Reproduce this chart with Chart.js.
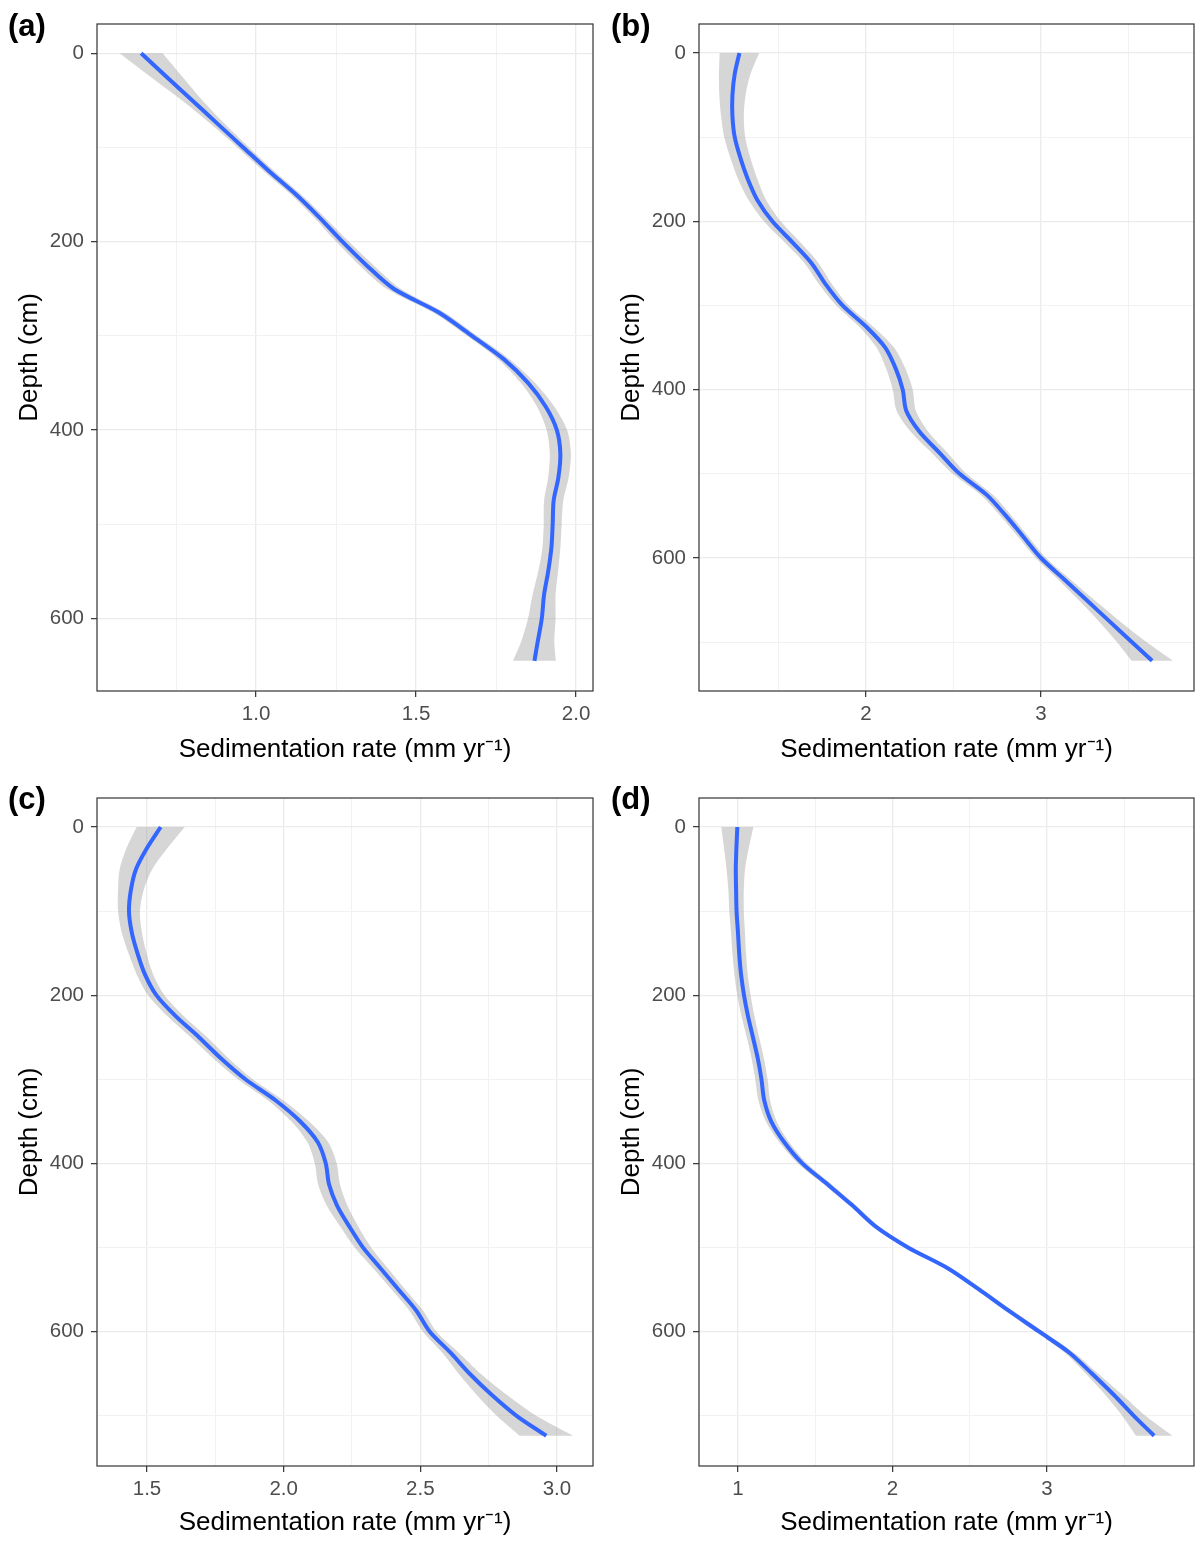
<!DOCTYPE html>
<html>
<head>
<meta charset="utf-8">
<script src="https://cdn.jsdelivr.net/npm/chart.js@4.4.0/dist/chart.umd.min.js"></script>
<style>
  body { margin: 0; background: #fff; }
  .panel { position: absolute; }
  .tag { position: absolute; font: bold 31px "Liberation Sans", Arial, sans-serif; line-height: 31px; color: #000; }
</style>
</head>
<body>
<div class="panel" style="left:0;top:0"><canvas id="chartA" width="597" height="772"></canvas></div>
<div class="panel" style="left:597px;top:0"><canvas id="chartB" width="598" height="772"></canvas></div>
<div class="panel" style="left:0;top:772px"><canvas id="chartC" width="597" height="772"></canvas></div>
<div class="panel" style="left:597px;top:772px"><canvas id="chartD" width="598" height="772"></canvas></div>
<div class="tag" style="left:8px;top:10px">(a)</div>
<div class="tag" style="left:611px;top:10px">(b)</div>
<div class="tag" style="left:8px;top:783px">(c)</div>
<div class="tag" style="left:611px;top:783px">(d)</div>
<script>
// depth (cm), fitted sedimentation rate and half width of the grey band
var depthA = [0, 25, 50, 75, 100, 125, 150, 175, 200, 225, 250, 275, 300, 325, 350, 375, 400, 425, 450, 475, 500, 525, 550, 575, 600, 625, 645];
var rateA = [0.641, 0.72, 0.80, 0.88, 0.96, 1.04, 1.125, 1.20, 1.27, 1.345, 1.43, 1.57, 1.675, 1.775, 1.85, 1.905, 1.94, 1.951, 1.945, 1.93, 1.927, 1.923, 1.913, 1.90, 1.893, 1.88, 1.87];
var bandA = [0.067, 0.05, 0.032, 0.022, 0.018, 0.017, 0.016, 0.017, 0.02, 0.022, 0.022, 0.018, 0.016, 0.018, 0.022, 0.027, 0.032, 0.033, 0.032, 0.03, 0.028, 0.028, 0.031, 0.036, 0.043, 0.052, 0.067];

var depthB = [0, 25, 50, 75, 100, 125, 150, 175, 200, 225, 250, 275, 300, 325, 350, 375, 400, 425, 450, 475, 500, 525, 550, 575, 600, 625, 650, 675, 700, 722];
var rateB = [1.277, 1.25, 1.237, 1.237, 1.25, 1.283, 1.325, 1.38, 1.465, 1.58, 1.69, 1.77, 1.866, 2.0, 2.11, 2.17, 2.21, 2.23, 2.306, 2.42, 2.535, 2.69, 2.80, 2.90, 3.0, 3.13, 3.26, 3.39, 3.52, 3.635];
var bandB = [0.113, 0.09, 0.075, 0.065, 0.06, 0.057, 0.055, 0.05, 0.048, 0.045, 0.04, 0.037, 0.035, 0.04, 0.05, 0.055, 0.057, 0.055, 0.05, 0.045, 0.04, 0.035, 0.032, 0.03, 0.03, 0.035, 0.045, 0.06, 0.085, 0.118];

var depthC = [0, 25, 50, 75, 100, 125, 150, 175, 200, 225, 250, 275, 300, 325, 350, 375, 400, 425, 450, 475, 500, 525, 550, 575, 600, 625, 650, 675, 700, 724];
var rateC = [1.55, 1.50, 1.46, 1.441, 1.434, 1.444, 1.465, 1.492, 1.534, 1.605, 1.69, 1.77, 1.86, 1.97, 2.06, 2.125, 2.154, 2.166, 2.195, 2.24, 2.29, 2.355, 2.42, 2.485, 2.534, 2.61, 2.68, 2.76, 2.851, 2.961];
var bandC = [0.088, 0.075, 0.06, 0.047, 0.04, 0.037, 0.033, 0.03, 0.03, 0.03, 0.03, 0.028, 0.027, 0.028, 0.032, 0.038, 0.04, 0.04, 0.038, 0.033, 0.03, 0.027, 0.025, 0.025, 0.025, 0.03, 0.04, 0.055, 0.072, 0.098];

var depthD = [0, 25, 50, 75, 100, 125, 150, 175, 200, 225, 250, 275, 300, 325, 350, 375, 400, 425, 450, 475, 500, 525, 550, 575, 600, 625, 650, 675, 700, 724];
var rateD = [0.996, 0.99, 0.986, 0.988, 0.991, 1.0, 1.008, 1.02, 1.039, 1.065, 1.097, 1.128, 1.152, 1.17, 1.215, 1.30, 1.416, 1.58, 1.74, 1.89, 2.10, 2.36, 2.56, 2.75, 2.948, 3.143, 3.29, 3.43, 3.56, 3.693];
var bandD = [0.104, 0.08, 0.06, 0.05, 0.047, 0.045, 0.044, 0.043, 0.043, 0.042, 0.04, 0.04, 0.04, 0.038, 0.035, 0.032, 0.03, 0.026, 0.022, 0.02, 0.02, 0.02, 0.022, 0.024, 0.026, 0.03, 0.04, 0.055, 0.075, 0.118];

// axis ticks
var depthMajor = [0, 200, 400, 600];
var depthLabels = ['0', '200', '400', '600'];
var depthMinorA = [100, 300, 500];
var depthMinor = [100, 300, 500, 700];

var rateMajorA = [1.0, 1.5, 2.0];
var rateLabelsA = ['1.0', '1.5', '2.0'];
var rateMinorA = [0.75, 1.25, 1.75];

var rateMajorB = [2, 3];
var rateLabelsB = ['2', '3'];
var rateMinorB = [1.5, 2.5, 3.5];

var rateMajorC = [1.5, 2.0, 2.5, 3.0];
var rateLabelsC = ['1.5', '2.0', '2.5', '3.0'];
var rateMinorC = [1.75, 2.25, 2.75];

var rateMajorD = [1, 2, 3];
var rateLabelsD = ['1', '2', '3'];
var rateMinorD = [1.5, 2.5, 3.5];

var fontFamily = '"Liberation Sans", Arial, Helvetica, sans-serif';

// ggplot-like panel border drawn over the data
var panelBorder = {
    id: 'panelBorder',
    afterDraw: function(chart) {
        var a = chart.chartArea;
        var ctx = chart.ctx;
        ctx.save();
        ctx.strokeStyle = '#333333';
        ctx.lineWidth = 1.2;
        ctx.strokeRect(a.left, a.top, a.right - a.left, a.bottom - a.top);
        ctx.restore();
    }
};

function axisTicks(major, minor) {
    return function(scale) {
        scale.ticks = major.concat(minor).sort(function(p, q) { return p - q; }).map(function(v) {
            return { value: v };
        });
    };
}

function gridFor(major) {
    return {
        color: function(c) { return major.indexOf(c.tick.value) >= 0 ? '#EBEBEB' : '#F2F2F2'; },
        lineWidth: function(c) { return major.indexOf(c.tick.value) >= 0 ? 1.3 : 1; },
        tickColor: function(c) { return major.indexOf(c.tick.value) >= 0 ? '#333333' : 'rgba(0,0,0,0)'; },
        tickWidth: 1.2,
        tickLength: 6,
        drawTicks: true
    };
}

function labelFor(major, labels) {
    return function(value) {
        var i = major.indexOf(value);
        return i >= 0 ? labels[i] : '';
    };
}

function makePanel(id, depth, rate, band, p) {
    var line = depth.map(function(d, i) { return { x: rate[i], y: d }; });
    // closed band outline: upper edge going down, lower edge coming back up;
    // the end points are doubled so the curve keeps square corners there
    var n = depth.length;
    var ribbon = [];
    for (var i = 0; i < n; i++) ribbon.push({ x: rate[i] + band[i], y: depth[i] });
    ribbon.push({ x: rate[n - 1] + band[n - 1], y: depth[n - 1] });
    ribbon.push({ x: rate[n - 1] - band[n - 1], y: depth[n - 1] });
    for (var j = n - 1; j >= 0; j--) ribbon.push({ x: rate[j] - band[j], y: depth[j] });
    ribbon.push({ x: rate[0] - band[0], y: depth[0] });
    ribbon.push({ x: rate[0] + band[0], y: depth[0] });
    ribbon.push({ x: rate[0] + band[0], y: depth[0] });

    new Chart(document.getElementById(id), {
        type: 'scatter',
        data: {
            datasets: [{
                data: line,
                showLine: true,
                borderColor: '#3366FF',
                borderWidth: 4,
                pointRadius: 0,
                tension: 0.3
            }, {
                data: ribbon,
                showLine: true,
                borderColor: 'rgba(0,0,0,0)',
                borderWidth: 0,
                backgroundColor: 'rgba(153,153,153,0.4)',
                fill: 'shape',
                pointRadius: 0,
                tension: 0.3
            }]
        },
        options: {
            responsive: false,
            animation: false,
            devicePixelRatio: 1,
            layout: { padding: p.pad },
            plugins: { legend: { display: false }, tooltip: { enabled: false } },
            scales: {
                x: {
                    type: 'linear',
                    min: p.xLim[0],
                    max: p.xLim[1],
                    afterBuildTicks: axisTicks(p.xMajor, p.xMinor),
                    afterFit: function(s) { s.height = p.xHeight; },
                    grid: gridFor(p.xMajor),
                    border: { display: false },
                    ticks: {
                        autoSkip: false,
                        maxRotation: 0,
                        padding: 5,
                        color: '#4D4D4D',
                        font: { family: fontFamily, size: 20.5 },
                        callback: labelFor(p.xMajor, p.xLabels)
                    },
                    title: {
                        display: true,
                        text: 'Sedimentation rate (mm yr\u207B\u00B9)',
                        color: '#000',
                        font: { family: fontFamily, size: 26 },
                        padding: { top: 0, bottom: p.xTitlePad }
                    }
                },
                y: {
                    type: 'linear',
                    reverse: true,
                    min: p.yLim[0],
                    max: p.yLim[1],
                    afterBuildTicks: axisTicks(depthMajor, p.yMinor),
                    afterFit: function(s) { s.width = p.yWidth; },
                    grid: gridFor(depthMajor),
                    border: { display: false },
                    ticks: {
                        autoSkip: false,
                        padding: 7,
                        color: '#4D4D4D',
                        font: { family: fontFamily, size: 20.5 },
                        callback: labelFor(depthMajor, depthLabels)
                    },
                    title: {
                        display: true,
                        text: 'Depth (cm)',
                        color: '#000',
                        font: { family: fontFamily, size: 26 },
                        padding: { top: p.yTitlePad, bottom: 0 }
                    }
                }
            }
        },
        plugins: [panelBorder]
    });
}

makePanel('chartA', depthA, rateA, bandA, {
    xLim: [0.503, 2.053], yLim: [-31, 677],
    xMajor: rateMajorA, xLabels: rateLabelsA, xMinor: rateMinorA, yMinor: depthMinorA,
    pad: { left: 0, top: 24, right: 4, bottom: 0 }, yWidth: 97, xHeight: 81, yTitlePad: 14.4, xTitlePad: 6.4
});

makePanel('chartB', depthB, rateB, bandB, {
    xLim: [1.046, 3.874], yLim: [-34.4, 758],
    xMajor: rateMajorB, xLabels: rateLabelsB, xMinor: rateMinorB, yMinor: depthMinor,
    pad: { left: 0, top: 24, right: 1, bottom: 0 }, yWidth: 102, xHeight: 81, yTitlePad: 19.4, xTitlePad: 6.4
});

makePanel('chartC', depthC, rateC, bandC, {
    xLim: [1.317, 3.132], yLim: [-34.5, 760],
    xMajor: rateMajorC, xLabels: rateLabelsC, xMinor: rateMinorC, yMinor: depthMinor,
    pad: { left: 0, top: 26, right: 4, bottom: 0 }, yWidth: 97, xHeight: 78, yTitlePad: 14.4, xTitlePad: 5.4
});

makePanel('chartD', depthD, rateD, bandD, {
    xLim: [0.748, 3.951], yLim: [-34.5, 760],
    xMajor: rateMajorD, xLabels: rateLabelsD, xMinor: rateMinorD, yMinor: depthMinor,
    pad: { left: 0, top: 26, right: 1, bottom: 0 }, yWidth: 102, xHeight: 78, yTitlePad: 19.4, xTitlePad: 5.4
});
</script>
</body>
</html>
